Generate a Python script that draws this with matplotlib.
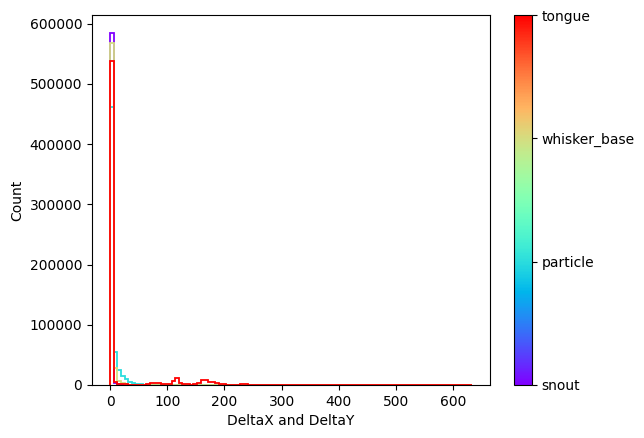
import numpy as np
import matplotlib
matplotlib.use('Agg')
from matplotlib import pyplot as plt

# bodyparts, in colour order along the colorbar
bodyparts = ['snout', 'particle', 'whisker_base', 'tongue']

# 100 bins over 0 .. 633
bin_lo = 0.0
bin_hi = 633.0
n_bins = 100

snout = [
    585000, 3000, 1200, 800, 600, 500, 400, 400, 300, 300,
    300, 300, 250, 250, 200, 200, 200, 200, 150, 150,
    150, 150, 150, 100, 100, 100, 100, 100, 100, 100,
    80, 80, 80, 80, 60, 60, 60, 60, 50, 50,
    50, 50, 40, 40, 40, 40, 30, 30, 30, 30,
    20, 20, 20, 20, 20, 20, 10, 10, 10, 10,
    10, 10, 10, 10, 10, 5, 5, 5, 5, 5,
    5, 5, 5, 5, 5, 0, 0, 0, 0, 0,
    0, 0, 0, 0, 0, 0, 0, 0, 0, 0,
    0, 0, 0, 0, 0, 0, 0, 0, 0, 0,
]
particle = [
    462000, 55000, 25000, 15500, 10000, 5500, 4000, 2000, 1200, 800,
    600, 500, 400, 400, 300, 300, 250, 250, 200, 200,
    150, 150, 150, 100, 100, 100, 100, 80, 80, 80,
    60, 60, 60, 50, 50, 50, 40, 40, 40, 30,
    30, 30, 20, 20, 20, 20, 10, 10, 10, 10,
    10, 10, 5, 5, 5, 5, 5, 5, 0, 0,
    0, 0, 0, 0, 0, 0, 0, 0, 0, 0,
    0, 0, 0, 0, 0, 0, 0, 0, 0, 0,
    0, 0, 0, 0, 0, 0, 0, 0, 0, 0,
    0, 0, 0, 0, 0, 0, 0, 0, 0, 0,
]
whisker_base = [
    567000, 28000, 6000, 2500, 1500, 800, 600, 500, 400, 300,
    300, 250, 250, 200, 200, 150, 150, 150, 100, 100,
    100, 100, 80, 80, 80, 60, 60, 60, 50, 50,
    40, 40, 40, 30, 30, 30, 20, 20, 20, 20,
    10, 10, 10, 10, 10, 5, 5, 5, 5, 5,
    0, 0, 0, 0, 0, 0, 0, 0, 0, 0,
    0, 0, 0, 0, 0, 0, 0, 0, 0, 0,
    0, 0, 0, 0, 0, 0, 0, 0, 0, 0,
    0, 0, 0, 0, 0, 0, 0, 0, 0, 0,
    0, 0, 0, 0, 0, 0, 0, 0, 0, 0,
]
tongue = [
    538000, 5500, 1500, 1000, 900, 800, 800, 700, 700, 800,
    1000, 3000, 2500, 3000, 1500, 1000, 1500, 7000, 12000, 3000,
    1200, 900, 800, 900, 2500, 8300, 8000, 5500, 5000, 3300,
    2000, 1000, 700, 600, 500, 600, 2000, 1000, 500, 400,
    400, 350, 300, 300, 300, 250, 250, 250, 200, 200,
    200, 200, 180, 180, 160, 160, 150, 150, 140, 140,
    130, 130, 120, 120, 110, 110, 100, 100, 100, 90,
    90, 90, 80, 80, 80, 70, 70, 70, 60, 60,
    60, 50, 50, 50, 40, 40, 40, 30, 30, 30,
    30, 20, 20, 20, 20, 20, 10, 10, 10, 10,
]

counts = [snout, particle, whisker_base, tongue]

bins = np.linspace(bin_lo, bin_hi, n_bins + 1)
cmap = plt.cm.rainbow

fig = plt.figure(figsize=(6.44, 4.38), dpi=100)
ax = fig.add_axes([92 / 644, 53 / 438, 398 / 644, 370 / 438])

for k, c in enumerate(counts):
    ax.hist(bins[:-1], bins=bins, weights=c, histtype='step', linewidth=1.3,
            color=cmap(k / (len(bodyparts) - 1)))

ax.set_xlabel('DeltaX and DeltaY')
ax.set_ylabel('Count')

cax = fig.add_axes([514 / 644, 53 / 438, 18 / 644, 370 / 438])
sm = plt.cm.ScalarMappable(cmap=cmap,
                           norm=plt.Normalize(0, len(bodyparts) - 1))
cbar = fig.colorbar(sm, cax=cax)
cbar.set_ticks(range(len(bodyparts)))
cbar.set_ticklabels(bodyparts)

fig.savefig('out.png', dpi=100)
